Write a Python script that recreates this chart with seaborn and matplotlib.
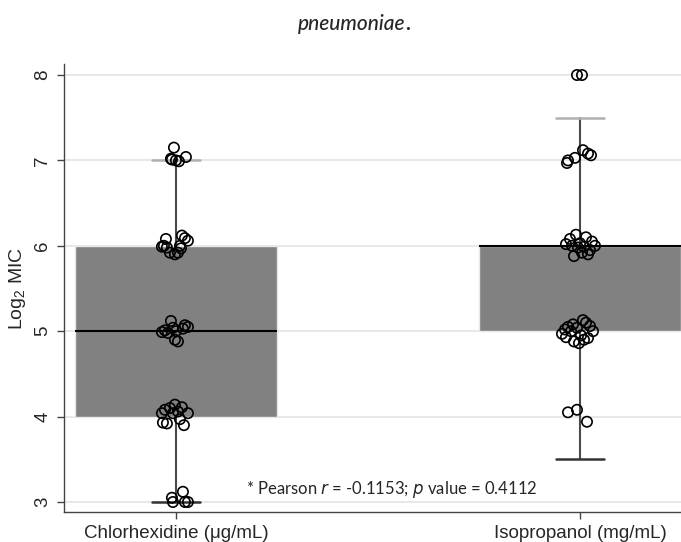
import seaborn as sns
import matplotlib.pyplot as plt
import numpy as np
import pandas as pd

groups = ['Chlorhexidine (μg/mL)', 'Isopropanol (mg/mL)']

# box summaries (log2 MIC)
q1 = [4, 5]
med = [5, 6]
q3 = [6, 6]
whis_lo = [3, 3.5]
whis_hi = [7, 7.5]

# individual isolates as drawn (value, horizontal jitter in px)
chx_y = [7.15, 7.02, 7.0, 6.99, 7.04, 7.01,
         6.08, 5.99, 6.0, 5.98, 5.92, 5.9, 5.92, 5.97, 6.12, 6.09, 6.06, 6.0,
         5.12, 5.01, 4.98, 5.0, 5.07, 5.05, 4.9, 4.88, 4.99, 5.03, 5.04,
         4.14, 4.08, 4.10, 4.11, 4.04, 3.92, 3.90, 4.04, 3.97, 4.04, 4.06, 3.93,
         3.12, 3.05, 3.0, 3.0, 3.0]
chx_jit = [-2, -5, 0, 3, 10, -4,
           -10, -14, -12, -9, -6, -1, 2, 5, 6, 9, 12, 4,
           -5, -11, -8, 0, 9, 12, -1, 2, -14, 7, -3,
           -1, -11, -6, 6, 12, -9, 8, -14, 4, -3, 2, -13,
           7, -4, -3, 9, 12]
ipa_y = [8.0, 8.0,
         7.0, 6.97, 7.03, 7.12, 7.08, 7.06,
         6.13, 6.08, 6.02, 6.0, 5.98, 5.92, 5.88, 5.9, 6.1, 6.05, 6.0, 5.95, 6.03, 5.99,
         5.13, 5.08, 5.05, 5.02, 4.97, 4.93, 4.88, 4.86, 4.9, 5.06, 5.0, 5.04, 4.95, 5.1, 5.0, 4.92,
         4.05, 4.08, 3.94]
ipa_jit = [-3, 2,
           -12, -13, -5, 3, 8, 11,
           -4, -10, -14, -8, -2, 2, -6, 8, 6, 12, 15, 10, 0, 4,
           3, -7, -12, -15, -18, -14, -6, -1, 4, 10, 13, -3, 1, 6, -9, 8,
           -12, -3, 7]

px_per_unit = 404.0
df = pd.DataFrame({
    'pos': [0 + j / px_per_unit for j in chx_jit] + [1 + j / px_per_unit for j in ipa_jit],
    'mic': chx_y + ipa_y,
})

sns.set_style('white')
plt.rcParams['font.family'] = ['Liberation Sans', 'DejaVu Sans']
plt.rcParams['mathtext.fontset'] = 'custom'
plt.rcParams['mathtext.rm'] = 'Liberation Sans'

fig = plt.figure(figsize=(6.81, 5.42), dpi=100)
ax = fig.add_axes([64 / 681, 1 - 512 / 542, 1 - 64 / 681, 448 / 542])

for yv in range(3, 9):
    ax.axhline(yv, color='#e4e4e4', lw=1.2, zorder=0)

stats = [dict(q1=q1[i], med=med[i], q3=q3[i], whislo=whis_lo[i], whishi=whis_hi[i], fliers=[])
         for i in range(2)]
bp = ax.bxp(stats, positions=[0, 1], widths=0.5, patch_artist=True, manage_ticks=False,
            boxprops=dict(facecolor='#818181', edgecolor='#e8e8e8', lw=1),
            medianprops=dict(color='black', lw=1.5),
            whiskerprops=dict(color='#4a4a4a', lw=1.5),
            capprops=dict(color='#b0b0b0', lw=1.8), capwidths=0.12, zorder=2)
# lower caps are darker in the original
bp['caps'][0].set_color('#333333')
bp['caps'][2].set_color('#333333')

sns.scatterplot(data=df, x='pos', y='mic', ax=ax, s=55, facecolor='none',
                edgecolor='black', linewidth=1.2, zorder=3, legend=False)

ax.set_xlim(-0.277, 1.25)
ax.set_ylim(2.883, 8.129)
ax.set_xticks([0, 1])
ax.set_xticklabels(groups, fontsize=13.5)
ax.set_yticks(range(3, 9))
ax.set_yticklabels([str(v) for v in range(3, 9)], rotation=90, va='center', fontsize=13.5)
ax.tick_params(axis='both', direction='out', length=5, width=1, color='#444444', left=True, bottom=True)
ax.tick_params(axis='x', pad=4)
ax.tick_params(axis='y', pad=4)
ax.set_xlabel('')
ax.set_ylabel('Log$_2$ MIC', fontsize=14, labelpad=5)
for s in ['top', 'right']:
    ax.spines[s].set_visible(False)
for s in ['left', 'bottom']:
    ax.spines[s].set_color('#444444')
    ax.spines[s].set_linewidth(1)

fig.text(392 / 681, 1 - 489 / 542, r'* Pearson $\it{r}$ = -0.1153; $\it{p}$ value = 0.4112',
         ha='center', va='center', fontsize=12, family='Lato')
fig.text(405 / 681, 1 - 24 / 542, 'pneumoniae', ha='right', va='center', fontsize=15,
         family='Lato', style='italic', weight='medium')
fig.text(405 / 681, 1 - 24 / 542, '.', ha='left', va='center', fontsize=15,
         family='Lato', weight='bold')

fig.savefig('out.png', dpi=100)
